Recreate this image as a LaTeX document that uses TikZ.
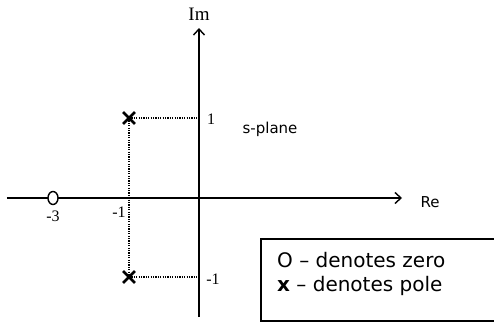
\documentclass[tikz,border=0pt]{standalone}
\usepackage{fontspec}
\setmainfont{DejaVu Sans}
\newfontfamily\numfont{Liberation Serif}
\usetikzlibrary{arrows.meta,shapes.misc,shapes.geometric}

\tikzset{
  axis/.style={line width=1.5pt, -{Straight Barb[length=6pt,width=11pt,line width=1.4pt]}},
  guide/.style={line width=2pt, dash pattern=on 1.2pt off 1.2pt},
  pole/.style={cross out, draw, line width=2.8pt, minimum size=9pt, inner sep=0pt},
  zero/.style={ellipse, draw, fill=white, line width=1.4pt, minimum width=10pt, minimum height=13pt, inner sep=0pt},
  ticklab/.style={font=\numfont\fontsize{16}{16}\selectfont},
}

\begin{document}
\begin{tikzpicture}[x=1pt,y=1pt]
  \useasboundingbox (-199,-124) rectangle (295,198);

  \coordinate (west) at (-192,0);
  \coordinate (east) at (203,0);
  \coordinate (south) at (0,-119);
  \coordinate (north) at (0,170);
  \coordinate (up) at (0,80);
  \coordinate (down) at (0,-79);

  \draw[axis] (west) -- (east);
  \draw[axis] (south) -- (north);

  \node[pole] (p1) at (-70,80) {};
  \node[pole] (p2) at (-70,-79) {};
  \draw[guide] (p1.center) -- (up);
  \draw[guide] (p2.center) -- (down);
  \draw[guide] (p1.center) -- (p2.center);

  \node[zero] (z1) at (-146,0) {};

  \node[ticklab] (l3) at (-146,-18) {-3};
  \node[ticklab] (l1) at (-80,-14) {-1};
  \node[ticklab] (lu) at (12,79) {1};
  \node[ticklab] (ld) at (14,-81) {-1};
  \node[font=\numfont\fontsize{19}{19}\selectfont] (im) at (0,184) {Im};
  \node[font=\fontsize{15}{15}\selectfont] (re) at (231,-4) {Re};
  \node[font=\fontsize{15}{15}\selectfont] (splane) at (71,69) {s-plane};

  \draw[line width=1.2pt] (62,-123) rectangle (310,-41);
  \node[anchor=west, align=left, inner sep=0pt, font=\fontsize{20}{24}\selectfont] (legend) at (78,-76)
    {O – denotes zero\\\textbf{x} – denotes pole};
\end{tikzpicture}
\end{document}
